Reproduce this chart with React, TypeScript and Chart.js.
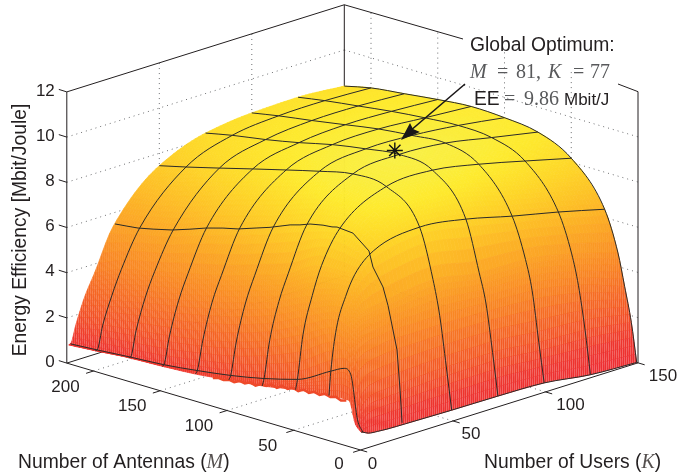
import React, { useEffect, useRef } from "react";
import { Chart, registerables } from "chart.js";

Chart.register(...registerables);

// ---- values ----
const kGrid = [1, 2, 5, 10, 15, 25, 50, 75, 100, 125, 150];
const mGrid = [1, 5, 10, 15, 25, 50, 75, 100, 125, 150, 175, 200, 220];
const eeAtM1 = [0.75, 0.72, 0.6, 0.55, 0.52, 0.5, 0.46, 0.44, 0.38, 0.1, 0];
const eeAtM5 = [1.0, 1.2, 1.8, 2.1, 2.15, 2.2, 2.3, 2.3, 2.1, 2.0, 1.7];
const eeAtM10 = [2.0, 3.1, 4.0, 4.3, 4.4, 4.5, 4.5, 4.4, 4.3, 3.9, 3.2];
const eeAtM15 = [2.0, 3.3, 4.7, 5.4, 5.6, 5.75, 6.0, 5.65, 5.6, 5.2, 4.6];
const eeAtM25 = [1.95, 3.0, 4.8, 6.1, 6.95, 7.73, 8.14, 7.85, 7.34, 6.88, 6.36];
const eeAtM50 = [1.77, 2.2, 4.1, 5.7, 6.9, 8.3, 9.5, 9.58, 9.2, 8.7, 8.18];
const eeAtM75 = [1.5, 1.8, 3.4, 5.0, 6.1, 8.0, 9.62, 9.84, 9.7, 9.3, 8.9];
const eeAtM100 = [1.33, 1.5, 2.9, 4.5, 5.6, 7.47, 9.3, 9.65, 9.6, 9.4, 9.1];
const eeAtM125 = [1.15, 1.28, 2.55, 4.1, 5.15, 7.0, 8.92, 9.4, 9.45, 9.3, 9.16];
const eeAtM150 = [1.06, 1.1, 2.3, 3.75, 4.8, 6.56, 8.53, 9.05, 9.2, 9.15, 9.03];
const eeAtM175 = [1.0, 1.0, 2.1, 3.45, 4.45, 6.03, 8.13, 8.75, 8.95, 8.95, 8.85];
const eeAtM200 = [0.87, 0.88, 1.9, 3.1, 4.1, 5.69, 7.74, 8.5, 8.72, 8.75, 8.67];
const eeAtM220 = [0.78, 0.8, 1.6, 2.75, 3.6, 5.4, 7.45, 8.25, 8.5, 8.55, 8.4];
const eeRows = [eeAtM1, eeAtM5, eeAtM10, eeAtM15, eeAtM25, eeAtM50, eeAtM75, eeAtM100, eeAtM125, eeAtM150, eeAtM175, eeAtM200, eeAtM220];

const meshM = [1, 25, 50, 75, 100, 125, 150, 175, 200];
const meshK = [2, 50, 75, 100, 125, 150];

// the K = 25 line, read closely because it wavers
const k25LineM = [218.5, 209.6, 201.3, 190, 175.8, 162.4, 150.4, 137.7, 126.4, 112.2, 102.4, 87.4, 80, 72.5, 62.7, 56, 52.2, 40.3, 28.3, 25.3, 17.8, 14, 7.3, 5, 3.5];
const k25LineEE = [5.54, 5.6, 5.66, 5.81, 6.02, 6.29, 6.55, 6.77, 6.93, 7.22, 7.42, 7.79, 7.92, 8.09, 8.21, 8.25, 8.31, 8.25, 7.67, 7.01, 6.26, 5.5, 3.66, 1.92, 0.5];

// the ragged K = 1 rim under the front ridge
const rimM = [12, 16, 20, 24, 28, 32, 36, 40, 44, 48, 52, 56, 60, 64, 68, 72, 76, 80, 84, 88, 92, 96, 100, 104, 108, 112];
const rimEE = [1.95, 1.88, 1.98, 1.9, 1.97, 1.85, 1.92, 1.8, 1.88, 1.74, 1.82, 1.7, 1.76, 1.6, 1.68, 1.55, 1.56, 1.42, 1.5, 1.38, 1.42, 1.3, 1.34, 1.25, 1.28, 1.2];

const optimum = { M: 81, K: 77, ee: 9.86 };

const eeTicks = [0, 2, 4, 6, 8, 10, 12];
const eeGrid = [2, 4, 6, 8, 10];
const antennaTicks = [0, 50, 100, 150, 200];
const userTicks = [0, 50, 100, 150];
const M_MAX = 220;
const K_MAX = 150;
const EE_MAX = 12;

// ---- view of the 3-D box ----
const proj = (M: number, K: number, z: number) => ({
  x: 360.5 - 1.335 * M + 1.85 * K,
  y: 450 - 0.395 * M - 0.581 * K - 22.6 * z,
});

// ---- monotone curve through the grid, for a smooth painted surface ----
function slopes(xs: number[], ys: number[]) {
  const n = xs.length;
  const d: number[] = [];
  for (let i = 0; i < n - 1; i++) d.push((ys[i + 1] - ys[i]) / (xs[i + 1] - xs[i]));
  const m = new Array(n).fill(0);
  m[0] = d[0];
  m[n - 1] = d[n - 2];
  for (let i = 1; i < n - 1; i++) {
    if (d[i - 1] * d[i] <= 0) m[i] = 0;
    else {
      const h0 = xs[i] - xs[i - 1];
      const h1 = xs[i + 1] - xs[i];
      m[i] = (3 * (h0 + h1)) / ((2 * h1 + h0) / d[i - 1] + (h1 + 2 * h0) / d[i]);
    }
  }
  return m;
}
function curve(xs: number[], ys: number[], t: number) {
  const m = slopes(xs, ys);
  let i = 0;
  while (i < xs.length - 2 && t > xs[i + 1]) i++;
  const h = xs[i + 1] - xs[i];
  const s = (t - xs[i]) / h;
  const s2 = s * s;
  const s3 = s2 * s;
  return (2 * s3 - 3 * s2 + 1) * ys[i] + (s3 - 2 * s2 + s) * h * m[i] + (-2 * s3 + 3 * s2) * ys[i + 1] + (s3 - s2) * h * m[i + 1];
}
function refine(g: number[], step: number) {
  const out: number[] = [];
  for (let i = 0; i < g.length - 1; i++) {
    const n = Math.max(5, Math.ceil((g[i + 1] - g[i]) / step));
    for (let j = 0; j < n; j++) out.push(g[i] + ((g[i + 1] - g[i]) * j) / n);
  }
  out.push(g[g.length - 1]);
  return out;
}

const colorStops: [number, number[]][] = [
  [0, [238, 44, 50]],
  [1, [238, 52, 45]],
  [2, [242, 78, 36]],
  [4, [248, 128, 34]],
  [6, [252, 172, 38]],
  [8, [254, 214, 40]],
  [9, [254, 234, 46]],
  [10, [248, 240, 72]],
];
function colorOf(z: number) {
  for (let i = 0; i < colorStops.length - 1; i++) {
    const [a, ca] = colorStops[i];
    const [b, cb] = colorStops[i + 1];
    if (z <= b) {
      const t = Math.max(0, (z - a) / (b - a));
      return `rgb(${ca.map((c, j) => Math.round(c + (cb[j] - c) * t)).join(",")})`;
    }
  }
  return "rgb(248,240,72)";
}

const INK = "#231f20";
const SANS = '"Liberation Sans", Arial, sans-serif';
const SERIF = '"Liberation Serif", serif';

type Piece = { t: string; font: string; color?: string; x?: number };
function pieces(ctx: CanvasRenderingContext2D, x: number, y: number, list: Piece[]) {
  let px = x;
  for (const p of list) {
    if (p.x !== undefined) px = p.x;
    ctx.font = p.font;
    ctx.fillStyle = p.color || INK;
    ctx.fillText(p.t, px, y);
    px += ctx.measureText(p.t).width;
  }
}

const surfacePlugin = {
  id: "surface",
  afterDatasetDraw(chart: any, args: any) {
    if (chart.data.datasets[args.index].label !== "surface") return;
    const { ctx, scales } = chart;
    const fineK = refine(kGrid, 2);
    const fineM = refine(mGrid, 2);
    const byRow = eeRows.map((r) => fineK.map((k) => curve(kGrid, r, k)));
    const table = fineM.map((m) => fineK.map((_, j) => curve(mGrid, byRow.map((r) => r[j]), m)));
    const px = (i: number, j: number) => {
      const p = proj(fineM[i], fineK[j], table[i][j]);
      return [scales.x.getPixelForValue(p.x), scales.y.getPixelForValue(p.y)];
    };
    const tile = document.createElement("canvas");
    tile.width = 2;
    tile.height = 1;
    const tctx = tile.getContext("2d") as CanvasRenderingContext2D;
    tctx.fillStyle = "#ffffff";
    tctx.fillRect(0, 0, 1, 1);
    const stripes = ctx.createPattern(tile, "repeat");
    ctx.save();
    ctx.lineWidth = 0.7;
    ctx.lineJoin = "round";
    for (let i = fineM.length - 2; i >= 0; i--) {
      for (let j = fineK.length - 2; j >= 0; j--) {
        const z = (table[i][j] + table[i + 1][j] + table[i][j + 1] + table[i + 1][j + 1]) / 4;
        const c = colorOf(z);
        ctx.fillStyle = c;
        ctx.strokeStyle = c;
        const a = px(i, j), b = px(i + 1, j), d = px(i + 1, j + 1), e = px(i, j + 1);
        ctx.beginPath();
        ctx.moveTo(a[0], a[1]);
        ctx.lineTo(b[0], b[1]);
        ctx.lineTo(d[0], d[1]);
        ctx.lineTo(e[0], e[1]);
        ctx.closePath();
        ctx.fill();
        ctx.stroke();
        const strength = z < 2 ? 0.26 : Math.max(0, (0.26 * (6 - z)) / 4);
        if (strength > 0 && stripes) {
          ctx.globalAlpha = strength;
          ctx.fillStyle = stripes;
          ctx.fill();
          ctx.globalAlpha = 1;
        }
      }
    }
    ctx.restore();
  },
};

const textPlugin = {
  id: "labels",
  afterDatasetsDraw(chart: any) {
    const { ctx } = chart;
    ctx.save();
    ctx.textBaseline = "middle";
    ctx.fillStyle = INK;
    const tickFont = `17px ${SANS}`;
    const font = `19.3px ${SANS}`;
    ctx.font = tickFont;
    ctx.textAlign = "right";
    eeTicks.forEach((v) => {
      const p = proj(M_MAX, 0, v);
      ctx.fillText(String(v), p.x - 12, p.y - 1);
    });
    ctx.textAlign = "center";
    const mShift = [0, -21.5, -26, -28];
    const kShift = [0, 12, 18, 25];
    antennaTicks.forEach((v) => {
      const p = proj(v, 0, 0);
      ctx.fillText(String(v), p.x + mShift[String(v).length], p.y + (v ? 16 : 14));
    });
    userTicks.forEach((v) => {
      const p = proj(0, v, 0);
      ctx.fillText(String(v), p.x + kShift[String(v).length], p.y + (v ? 13 : 14));
    });
    ctx.textAlign = "left";
    const mathI = `italic 20px ${SERIF}`;
    pieces(ctx, 18, 463, [
      { t: "Number of Antennas (", font },
      { t: "M", font: mathI, color: "#55504f" },
      { t: ")", font },
    ]);
    pieces(ctx, 484, 463, [
      { t: "Number of Users (", font },
      { t: "K", font: mathI, color: "#55504f" },
      { t: ")", font },
    ]);
    ctx.save();
    ctx.translate(21, 230);
    ctx.rotate(-Math.PI / 2);
    ctx.textAlign = "center";
    ctx.font = font;
    ctx.fillText("Energy Efficiency [Mbit/Joule]", 0, 0);
    ctx.restore();

    const grey = "#58595b";
    const math = `20px ${SERIF}`;
    const ital = `italic 20px ${SERIF}`;
    pieces(ctx, 470, 46, [{ t: "Global Optimum:", font }]);
    pieces(ctx, 470, 73, [
      { t: "M", font: ital, color: grey },
      { t: "=", font: math, color: grey, x: 497 },
      { t: `${optimum.M},`, font: math, color: grey, x: 516 },
      { t: "K", font: ital, color: grey, x: 548 },
      { t: "=", font: math, color: grey, x: 573 },
      { t: `${optimum.K}`, font: math, color: grey, x: 590 },
    ]);
    pieces(ctx, 474, 100, [
      { t: "EE", font },
      { t: "=", font: math, color: grey, x: 504 },
      { t: `${optimum.ee}`, font: math, color: grey, x: 524 },
      { t: "Mbit/J", font: `17px ${SANS}`, x: 564 },
    ]);

    // arrow head of the annotation
    const tip = { x: 401, y: 140 };
    ctx.fillStyle = "#1a1718";
    ctx.beginPath();
    ctx.moveTo(chart.scales.x.getPixelForValue(tip.x), chart.scales.y.getPixelForValue(tip.y));
    ctx.lineTo(410, 123);
    ctx.lineTo(413, 129);
    ctx.lineTo(420, 132);
    ctx.closePath();
    ctx.fill();
    ctx.restore();
  },
};

const seg = (a: { x: number; y: number }, b: { x: number; y: number }) => [a, b];

function buildDatasets() {
  const ds: any[] = [];
  const line = (data: any[], extra: any) =>
    ds.push({ type: "scatter", showLine: true, data, pointRadius: 0, borderWidth: 1, borderColor: INK, fill: false, ...extra });
  const dots = { borderColor: "#6d6e70", borderDash: [1, 4], borderWidth: 1, order: 4 };

  // walls and floor grid
  eeGrid.forEach((v) => {
    line(seg(proj(M_MAX, 0, v), proj(M_MAX, K_MAX, v)), dots);
    line(seg(proj(M_MAX, K_MAX, v), proj(0, K_MAX, v)), dots);
  });
  antennaTicks.slice(1).forEach((m) => {
    line(seg(proj(m, K_MAX, 0), proj(m, K_MAX, EE_MAX)), dots);
    line(seg(proj(m, 0, 0), proj(m, K_MAX, 0)), dots);
  });
  userTicks.slice(1, 3).forEach((k) => {
    line(seg(proj(M_MAX, k, 0), proj(M_MAX, k, EE_MAX)), dots);
    line(seg(proj(0, k, 0), proj(M_MAX, k, 0)), dots);
  });

  // box
  const box = { order: 3 };
  line(seg(proj(M_MAX, 0, 0), proj(M_MAX, 0, EE_MAX)), box);
  line(seg(proj(M_MAX, 0, EE_MAX), proj(M_MAX, K_MAX, EE_MAX)), box);
  line(seg(proj(M_MAX, K_MAX, 0), proj(M_MAX, K_MAX, EE_MAX)), box);
  line(seg(proj(0, K_MAX, 0), proj(0, K_MAX, EE_MAX)), box);
  line(seg(proj(M_MAX, K_MAX, EE_MAX), { x: 463, y: 39 }), box);
  line(seg({ x: 618, y: 84 }, proj(0, K_MAX, EE_MAX)), box);
  line(seg(proj(M_MAX, 0, 0), proj(0, 0, 0)), box);
  line(seg(proj(0, 0, 0), proj(0, K_MAX, 0)), box);
  line(seg(proj(M_MAX, 0, 0), proj(M_MAX, K_MAX, 0)), box);
  line(seg(proj(M_MAX, K_MAX, 0), proj(0, K_MAX, 0)), box);

  // ticks
  eeTicks.forEach((v) => line(seg(proj(M_MAX, 0, v), { x: proj(M_MAX, 0, v).x - 8, y: proj(M_MAX, 0, v).y - 2.5 }), box));
  antennaTicks.forEach((m) => line(seg(proj(m, 0, 0), proj(m, -4, 0)), box));
  userTicks.forEach((k) => line(seg(proj(0, k, 0), proj(-5, k, 0)), box));

  // surface
  const all: any[] = [];
  mGrid.forEach((m, i) => kGrid.forEach((k, j) => all.push(proj(m, k, eeRows[i][j]))));
  ds.push({ type: "scatter", label: "surface", data: all, pointRadius: 0, showLine: false, order: 2 });

  // ragged rim
  line(rimM.map((m, i) => proj(m, 1, rimEE[i])), { order: 1.5, borderColor: "#ee4a2a", borderWidth: 2.5 });

  // mesh lines
  const mesh = { order: 1, cubicInterpolationMode: "monotone", borderColor: "#2b2a28", borderWidth: 1 };
  meshM.forEach((m) => {
    const row = eeRows[mGrid.indexOf(m)];
    line(kGrid.map((k, j) => proj(m, k, row[j])), mesh);
  });
  meshK.forEach((k) => {
    const j = kGrid.indexOf(k);
    const pts = mGrid.map((m, i) => proj(m, k, eeRows[i][j])).reverse();
    line(pts, mesh);
  });
  line(k25LineM.map((m, i) => proj(m, 25, k25LineEE[i])), { order: 1, borderColor: "#2b2a28", borderWidth: 1 });

  // optimum
  ds.push({
    type: "scatter",
    data: [proj(optimum.M, optimum.K, optimum.ee)],
    pointStyle: "star",
    pointRadius: 8,
    borderColor: "#111",
    borderWidth: 1.4,
    backgroundColor: "#111",
    order: 0,
  });
  line(seg({ x: 465, y: 84 }, { x: 403, y: 137 }), { order: 0, borderColor: "#1a1718", borderWidth: 1.6 });
  return ds;
}

export default function App() {
  const ref = useRef<HTMLCanvasElement | null>(null);
  useEffect(() => {
    document.body.style.margin = "0";
    document.body.style.background = "#fff";
    const chart = new Chart(ref.current as HTMLCanvasElement, {
      type: "scatter",
      data: { datasets: buildDatasets() },
      plugins: [surfacePlugin, textPlugin],
      options: {
        animation: false,
        responsive: false,
        layout: { padding: 0, autoPadding: false },
        plugins: { legend: { display: false }, tooltip: { enabled: false } },
        scales: {
          x: { type: "linear", min: 0, max: 694, display: false },
          y: { type: "linear", min: 0, max: 474, reverse: true, display: false },
        },
      },
    } as any);
    return () => chart.destroy();
  }, []);
  return <canvas ref={ref} width={694} height={474} style={{ position: "absolute", left: 0, top: 0, display: "block" }} />;
}
